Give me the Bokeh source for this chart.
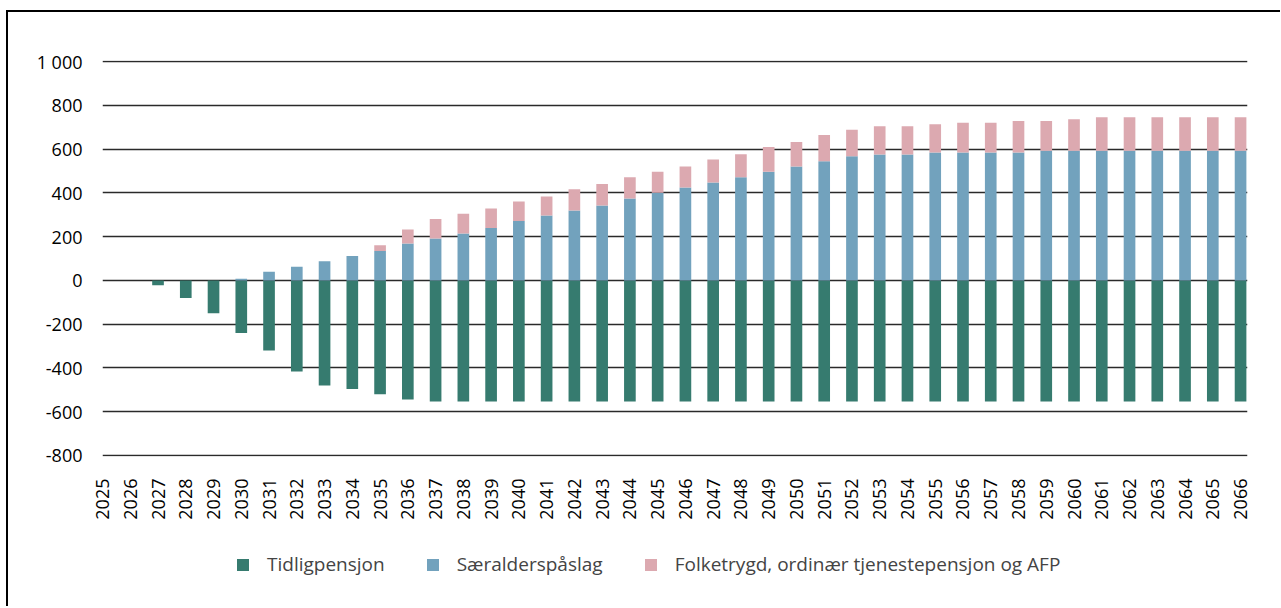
import math
from bokeh.plotting import figure
from bokeh.layouts import column
from bokeh.models import Range1d, FixedTicker, Legend, LegendItem, ColumnDataSource
from bokeh.embed import file_html
from bokeh.resources import INLINE

years = list(range(2025, 2067))

tidligpensjon = [0, 0, -22, -80, -150, -240, -320, -417, -480, -497, -521, -545] + [-554] * 30

saeralderspaaslag = [0, 0, 0, 0, 0, 7, 39, 62, 87, 111, 134, 168, 191, 214, 239, 271,
                     296, 319, 342, 374, 400, 424, 447, 471, 497, 520, 545, 567, 575,
                     575, 584, 584, 584, 584, 593, 593, 593, 593, 593, 593, 593, 593]

folketrygd = [0, 0, 0, 0, 0, 0, 0, 0, 0, 0, 26, 65, 90, 90, 89, 89, 87, 97, 99, 97,
              96, 96, 105, 106, 113, 113, 120, 121, 130, 130, 130, 137, 137, 145, 136,
              144, 153, 153, 153, 153, 153, 153]

series_names = ["Tidligpensjon", "Særalderspåslag", "Folketrygd, ordinær tjenestepensjon og AFP"]
colors = ["#367b6f", "#72a2bd", "#dca9b0"]

ytick_values = [-800, -600, -400, -200, 0, 200, 400, 600, 800, 1000]
ytick_labels = ["-800", "-600", "-400", "-200", "0", "200", "400", "600", "800", "1 000"]
xtick_labels = [str(y) for y in years]

FONT = "Open Sans"
W = 1272

src = ColumnDataSource(dict(year=years, tidlig=tidligpensjon,
                            saer=saeralderspaaslag, folk=folketrygd))


def draw_bars(fig, bar_width):
    neg = fig.vbar(x="year", top="tidlig", bottom=0, width=bar_width, source=src,
                   fill_color=colors[0], line_color=None)
    pos = fig.vbar_stack(["saer", "folk"], x="year", width=bar_width, source=src,
                         fill_color=colors[1:], line_color=None)
    return [neg] + list(pos)


# main chart
p = figure(width=W, height=518, output_backend="svg", toolbar_location=None,
           x_range=Range1d(2025, 2066.25), y_range=Range1d(-805, 1005),
           min_border_left=94, min_border_right=33, min_border_top=48, min_border_bottom=74)
draw_bars(p, 0.42)

p.xaxis.ticker = FixedTicker(ticks=years)
p.xaxis.major_label_overrides = {y: l for y, l in zip(years, xtick_labels)}
p.xaxis.major_label_orientation = math.pi / 2
p.yaxis.ticker = FixedTicker(ticks=ytick_values)
p.yaxis.major_label_overrides = {v: l for v, l in zip(ytick_values, ytick_labels)}

for ax in (p.xaxis, p.yaxis):
    ax.axis_line_color = None
    ax.major_tick_line_color = None
    ax.minor_tick_line_color = None
    ax.major_label_text_font = FONT
    ax.major_label_text_font_size = "18px"
    ax.major_label_text_color = "black"
p.xaxis.major_label_standoff = 16
p.yaxis.major_label_standoff = 14

p.xgrid.grid_line_color = None
p.ygrid.ticker = FixedTicker(ticks=ytick_values)
p.ygrid.grid_line_color = "#2a2a2a"
p.ygrid.grid_line_width = 1.4
p.outline_line_color = None

# legend strip below the chart: same series drawn with zero width, only the legend shows
lg = figure(width=W, height=76, output_backend="svg", toolbar_location=None,
            x_range=Range1d(2025, 2066.25), y_range=Range1d(5000, 6000),
            x_axis_location=None, y_axis_location=None, min_border=0)
lg.grid.grid_line_color = None
lg.outline_line_color = None
lg.background_fill_color = None
lg.border_fill_color = None
lr = draw_bars(lg, 0)

legend = Legend(items=[LegendItem(label=name, renderers=[r]) for name, r in zip(series_names, lr)],
                orientation="horizontal", location=(133, 29),
                label_text_font=FONT, label_text_font_size="19px",
                glyph_width=15, glyph_height=15, spacing=40, padding=0, margin=0,
                label_standoff=17, border_line_color=None, background_fill_alpha=0)
lg.add_layout(legend, "center")

layout = column(p, lg, spacing=0)
layout.styles = {"border-left": "2px solid black", "border-top": "2px solid black",
                 "margin-top": "10px", "margin-left": "6px"}

open("out.html", "w").write(file_html(layout, INLINE))
